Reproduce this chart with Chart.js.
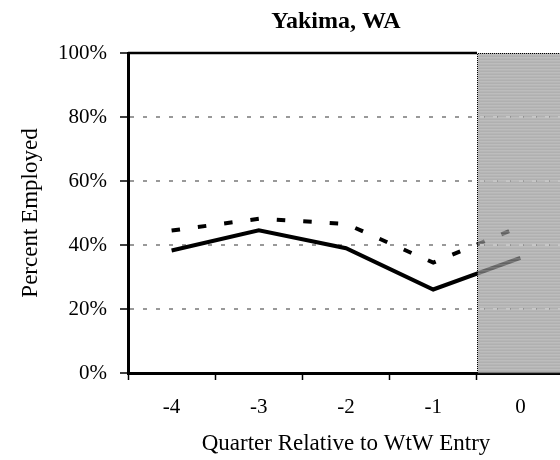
<!DOCTYPE html>
<html>
<head>
<meta charset="utf-8">
<script src="https://cdn.jsdelivr.net/npm/chart.js@4.4.0/dist/chart.umd.min.js"></script>
<style>
  html, body { margin: 0; padding: 0; background: #fff; overflow: hidden; }
  canvas { display: block; }
</style>
</head>
<body>
<canvas id="chart" width="570" height="460"></canvas>
<script>
'use strict';

var chartTitle = 'Yakima, WA';
var quarters = ['-4', '-3', '-2', '-1', '0'];
var solidSeries = [38.3, 44.6, 39.0, 26.1, 36.0];
var dashedSeries = [44.5, 48.2, 46.6, 34.5, 45.8];
var yTicks = [0, 20, 40, 60, 80, 100];
var shadeFrom = 3; // shading starts between quarter -1 and 0

var serif = '"Liberation Serif", "Times New Roman", serif';

// grey striped block over the entry quarter, drawn on top of the lines
var shadePlugin = {
  id: 'shade',
  afterDatasetsDraw: function(chart) {
    var ctx = chart.ctx;
    var area = chart.chartArea;
    var xs = chart.scales.x;
    var ys = chart.scales.y;
    var x0 = Math.round((xs.getPixelForValue(shadeFrom) + xs.getPixelForValue(shadeFrom + 1)) / 2) + 0.5;
    var w = chart.width - x0;
    var h = area.bottom - area.top;

    ctx.save();
    ctx.fillStyle = 'rgba(140,140,140,0.69)';
    ctx.fillRect(x0, area.top, w, h);
    ctx.fillStyle = 'rgba(255,255,255,0.16)';
    for (var y = area.top + 1; y < area.bottom; y += 3) {
      ctx.fillRect(x0, y, w, 1.5);
    }

    // grid dashes show lighter through the shading
    ctx.strokeStyle = '#c6c6c6';
    ctx.lineWidth = 2;
    ctx.setLineDash([4, 9]);
    ctx.lineDashOffset = (x0 - area.left) % 13;
    yTicks.forEach(function(v) {
      if (v <= 0 || v >= 100) return;
      var py = Math.round(ys.getPixelForValue(v));
      ctx.beginPath();
      ctx.moveTo(x0 + 1, py);
      ctx.lineTo(chart.width, py);
      ctx.stroke();
    });

    // dotted edge of the block
    ctx.strokeStyle = '#000';
    ctx.lineWidth = 1;
    ctx.lineDashOffset = 0;
    ctx.setLineDash([1, 1]);
    ctx.beginPath();
    ctx.moveTo(x0, area.bottom);
    ctx.lineTo(x0, area.top + 0.5);
    ctx.lineTo(chart.width, area.top + 0.5);
    ctx.stroke();

    // solid top frame left of the block
    ctx.setLineDash([]);
    ctx.lineWidth = 2.5;
    ctx.beginPath();
    ctx.moveTo(area.left, area.top);
    ctx.lineTo(x0 - 0.5, area.top);
    ctx.stroke();

    ctx.fillStyle = '#000';
    ctx.font = 'bold 24px ' + serif;
    ctx.textAlign = 'center';
    ctx.textBaseline = 'alphabetic';
    ctx.fillText(chartTitle, 336, 28);
    ctx.restore();
  }
};

var canvas = document.getElementById('chart');

var myChart = new Chart(canvas, {
  type: 'line',
  data: {
    labels: quarters,
    datasets: [{
      data: solidSeries,
      borderColor: '#000',
      borderWidth: 4,
      borderJoinStyle: 'miter',
      pointRadius: 0,
      tension: 0,
      fill: false
    }, {
      data: dashedSeries,
      borderColor: '#000',
      borderWidth: 4,
      borderDash: [8.5, 18],
      borderJoinStyle: 'miter',
      pointRadius: 0,
      tension: 0,
      fill: false
    }]
  },
  options: {
    responsive: false,
    animation: false,
    devicePixelRatio: 1,
    layout: { padding: { top: 53, right: 6, left: 0, bottom: 0 } },
    plugins: {
      legend: { display: false },
      tooltip: { enabled: false },
      title: { display: false }
    },
    scales: {
      x: {
        type: 'category',
        offset: true,
        z: 1,
        grid: {
          offset: true,
          drawOnChartArea: false,
          tickLength: 7,
          tickColor: '#000',
          tickWidth: 1.5
        },
        border: { color: '#000', width: 3 },
        ticks: {
          color: '#000',
          padding: 15,
          maxRotation: 0,
          font: { family: serif, size: 21 }
        },
        title: {
          display: true,
          text: 'Quarter Relative to WtW Entry',
          color: '#000',
          font: { family: serif, size: 23 },
          padding: { top: 0, bottom: 2 }
        },
        afterFit: function(scale) { scale.height = 87; }
      },
      y: {
        min: 0,
        max: 100,
        afterBuildTicks: function(scale) {
          scale.ticks = yTicks.map(function(v) { return { value: v }; });
        },
        grid: {
          color: function(c) {
            return (c.tick && (c.tick.value === 0 || c.tick.value === 100)) ? 'rgba(0,0,0,0)' : '#999';
          },
          lineWidth: 2,
          tickLength: 8,
          tickColor: '#000',
          tickWidth: 1.5
        },
        border: { color: '#000', width: 3, dash: [4, 9] },
        ticks: {
          color: '#000',
          padding: 13,
          font: { family: serif, size: 21 },
          callback: function(v) { return v + '%'; }
        },
        title: {
          display: true,
          text: 'Percent Employed',
          color: '#000',
          font: { family: serif, size: 23 },
          padding: { top: 17, bottom: 0 }
        },
        afterFit: function(scale) { scale.width = 128; }
      }
    }
  },
  plugins: [shadePlugin]
});
</script>
</body>
</html>
